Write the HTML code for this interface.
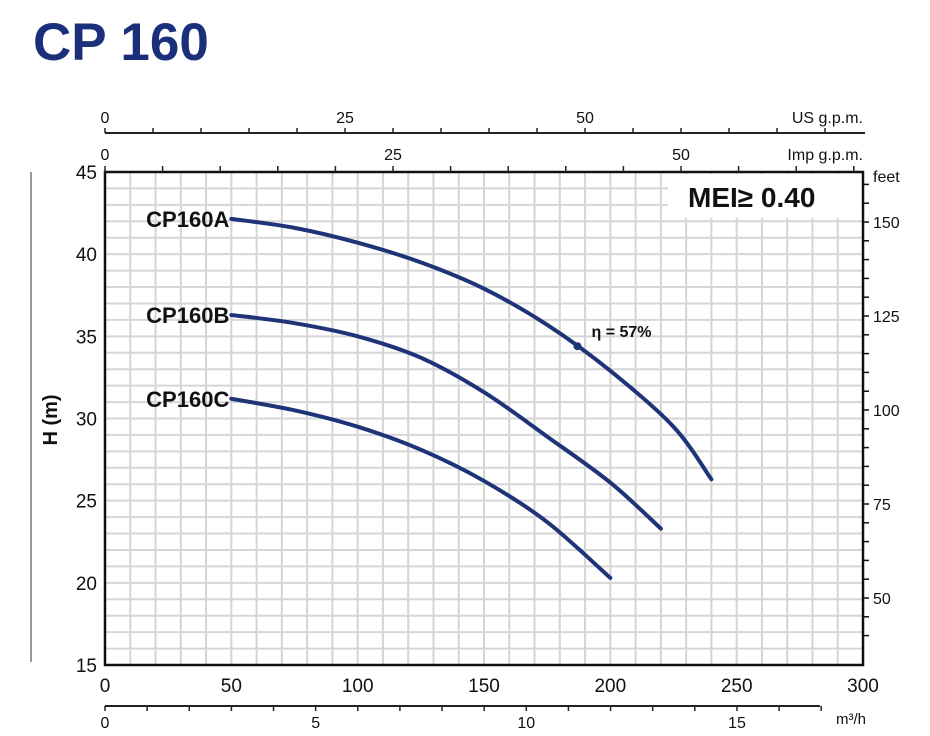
<!DOCTYPE html>
<html><head><meta charset="utf-8"><style>
html,body{margin:0;padding:0;background:#fff;width:930px;height:736px;overflow:hidden}
svg text{font-family:"Liberation Sans",sans-serif}
</style></head><body>
<svg id="chart" width="930" height="736" viewBox="0 0 930 736" xmlns="http://www.w3.org/2000/svg">
<text x="33" y="60" font-size="53" font-weight="bold" fill="#1c2f7a">CP 160</text>
<line x1="31" y1="172" x2="31" y2="662" stroke="#999" stroke-width="2"/>
<text transform="translate(57,420) rotate(-90)" font-size="20" font-weight="bold" text-anchor="middle" fill="#111">H (m)</text>
<g id="grid"></g>
<rect x="668" y="174" width="194" height="44" fill="#fff"/>
<text x="688" y="207" font-size="28" font-weight="bold" fill="#111">MEI≥ 0.40</text>
<g id="axes"></g>
<g id="curves"></g>
</svg>
<script>
const flowTicks=[0,50,100,150,200,250,300];
const headTicks=[15,20,25,30,35,40,45];
const feetTicks=[50,75,100,125,150];
const usTicks=[0,25,50];
const impTicks=[0,25,50];
const m3hTicks=[0,5,10,15];
const seriesNames=["CP160A","CP160B","CP160C"];
const flowA=[50,75,100,125,150,175,200,225,240];
const headA=[42.15,41.6,40.7,39.5,37.9,35.7,32.9,29.5,26.3];
const flowB=[50,75,100,125,150,175,200,220];
const headB=[36.3,35.8,35.0,33.7,31.6,28.9,26.1,23.3];
const flowC=[50,75,100,125,150,175,200];
const headC=[31.2,30.5,29.5,28.1,26.2,23.7,20.3];
const effFlow=[187];const effHead=[34.4];const effLabel=["η = 57%"];

const X0=105,X1=863,Y0=665,Y1=172;
const xs=q=>X0+(q-0)*(X1-X0)/300;
const ys=h=>Y0-(h-15)*(Y0-Y1)/30;
const ftY=f=>410-(f-100)*3.76;
const usX=g=>105+g*9.6, impX=g=>105+g*11.52, m3X=v=>105+v*42.13;
const NS="http://www.w3.org/2000/svg";
function mk(tag,at,parent,txt){const e=document.createElementNS(NS,tag);for(const k in at)e.setAttribute(k,at[k]);if(txt!==undefined)e.textContent=txt;parent.appendChild(e);return e;}
const grid=document.getElementById('grid'),axes=document.getElementById('axes'),curves=document.getElementById('curves');
for(let q=10;q<300;q+=10){const l=mk('line',{x1:xs(q),x2:xs(q),y1:Y1,y2:Y0,stroke:'#d4d4d4','stroke-width':2},grid);

}
for(let h=16;h<45;h++){const l=mk('line',{x1:X0,x2:X1,y1:ys(h),y2:ys(h),stroke:'#d6d6d6','stroke-width':2},grid);

}
const fr=mk('rect',{x:X0,y:Y1,width:X1-X0,height:Y0-Y1,fill:'none',stroke:'#111','stroke-width':2.5},axes);


flowTicks.forEach(q=>{const t=mk('text',{x:xs(q),y:692,'font-size':19,'text-anchor':'middle',fill:'#111'},axes,q);

});
headTicks.forEach(h=>{const t=mk('text',{x:97,y:ys(h)+7,'font-size':19,'text-anchor':'end',fill:'#111'},axes,h);

});
for(let f=40;f<=160;f+=5){const y=ftY(f);if(y<Y1+3||y>Y0-3)continue;const l=mk('line',{x1:X1,x2:X1+6,y1:y,y2:y,stroke:'#111','stroke-width':1.5},axes);

}
feetTicks.forEach(f=>{const t=mk('text',{x:873,y:ftY(f)+6,'font-size':16,fill:'#111'},axes,f);

});
const ft=mk('text',{x:873,y:182,'font-size':16,fill:'#111'},axes,'feet');


const us=mk('line',{x1:105,x2:865,y1:133,y2:133,stroke:'#222','stroke-width':2},axes);


for(let g=0;g<=75;g+=5){const l=mk('line',{x1:usX(g),x2:usX(g),y1:128,y2:133,stroke:'#222','stroke-width':1.5},axes);

}
usTicks.forEach(g=>{const t=mk('text',{x:usX(g),y:123,'font-size':16,'text-anchor':'middle',fill:'#111'},axes,g);

});
const ul=mk('text',{x:863,y:123,'font-size':16,'text-anchor':'end',fill:'#111'},axes,'US g.p.m.');


for(let g=0;g<=65;g+=5){const x=impX(g);if(x>863)continue;const l=mk('line',{x1:x,x2:x,y1:166,y2:172,stroke:'#222','stroke-width':1.5},axes);

}
impTicks.forEach(g=>{const t=mk('text',{x:impX(g),y:160,'font-size':16,'text-anchor':'middle',fill:'#111'},axes,g);

});
const il=mk('text',{x:863,y:160,'font-size':16,'text-anchor':'end',fill:'#111'},axes,'Imp g.p.m.');


const mb=mk('line',{x1:105,x2:820,y1:706,y2:706,stroke:'#222','stroke-width':2},axes);


for(let v=0;v<=17;v++){const l=mk('line',{x1:m3X(v),x2:m3X(v),y1:706,y2:711,stroke:'#222','stroke-width':1.5},axes);

}
m3hTicks.forEach(v=>{const t=mk('text',{x:m3X(v),y:728,'font-size':16,'text-anchor':'middle',fill:'#111'},axes,v);

});
const ml=mk('text',{x:866,y:724,'font-size':15,'text-anchor':'end',fill:'#111'},axes,'m³/h');


function pathFrom(F,H){const p=F.map((f,i)=>[xs(f),ys(H[i])]);let d='M'+p[0][0]+','+p[0][1];
for(let i=0;i<p.length-1;i++){const a=p[Math.max(0,i-1)],b=p[i],c=p[i+1],e=p[Math.min(p.length-1,i+2)];
d+=` C${b[0]+(c[0]-a[0])/6},${b[1]+(c[1]-a[1])/6} ${c[0]-(e[0]-b[0])/6},${c[1]-(e[1]-b[1])/6} ${c[0]},${c[1]}`;}return d;}
[[flowA,headA],[flowB,headB],[flowC,headC]].forEach((s,i)=>{
const p=mk('path',{d:pathFrom(s[0],s[1]),fill:'none',stroke:'#1f3378','stroke-width':4,'stroke-linecap':'round'},curves);


const t=mk('text',{x:xs(s[0][0])-2,y:ys(s[1][0])+8,'font-size':22,'font-weight':'bold','text-anchor':'end',fill:'#111'},curves,seriesNames[i]);

});
const ep=mk('circle',{cx:xs(effFlow[0]),cy:ys(effHead[0]),r:4,fill:'#1f3378'},curves);


const et=mk('text',{x:xs(effFlow[0])+14,y:ys(effHead[0])-9,'font-size':16,'font-weight':'bold',fill:'#111'},curves,effLabel[0]);


</script>
</body></html>
